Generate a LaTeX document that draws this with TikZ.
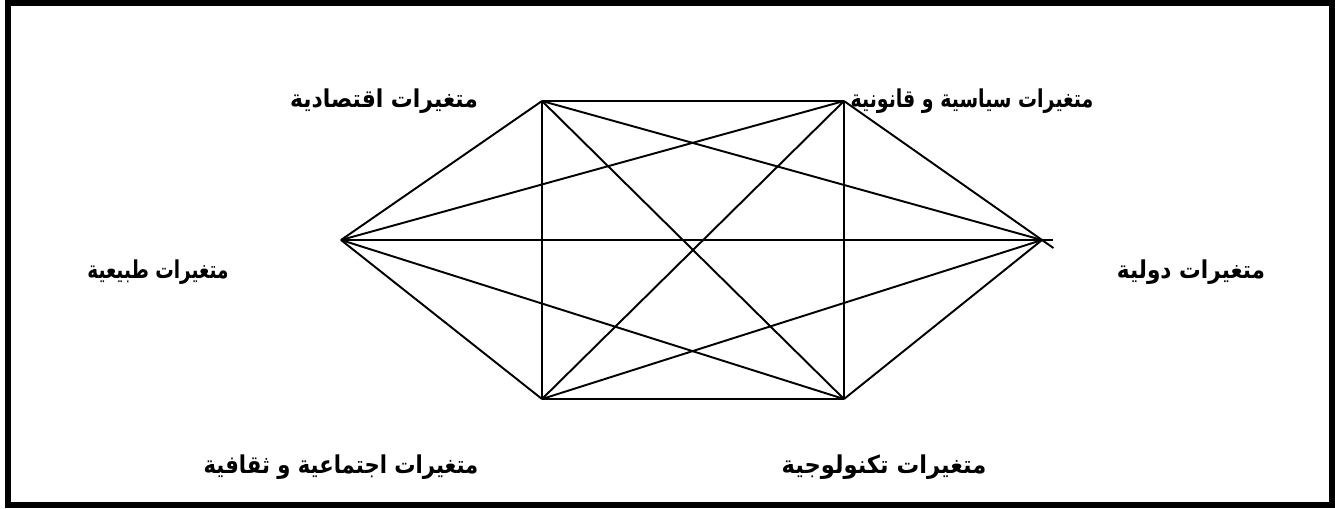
\documentclass[tikz,border=0pt]{standalone}
\usepackage{fontspec}
\usepackage{graphicx}
\usepackage{tikz}
\usetikzlibrary{positioning,calc}
\TeXXeTstate=1
\newfontfamily\arabicfont[Script=Arabic]{DejaVu Sans}
\newcommand{\varname}[2][0.89]{\scalebox{#1}[1]{\beginR #2\endR}}
\tikzset{
 frame/.style={draw=black, line width=0.12cm},
 link/.style={draw=black, line width=1.1pt},
 varlabel/.style={font=\arabicfont\bfseries\fontsize{14}{16}\selectfont, inner sep=0pt, anchor=center}
}
\begin{document}
\begin{tikzpicture}[x=0.02cm,y=-0.02cm]
\useasboundingbox (0,0) rectangle (1335,508);
\draw[frame] (8,3) rectangle (1332,505);
% hexagon corners
\coordinate (eco) at (542,101);
\coordinate (pol) at (844,101);
\coordinate (nat) at (341,240);
\coordinate (intl) at (1042,240);
\coordinate (soc) at (542,399);
\coordinate (tech) at (844,399);
% labels
\node[varlabel] (ecoL) at (384,101) {\varname{متغيرات اقتصادية}};
\node[varlabel] (polL) at (972,101) {\varname[0.77]{متغيرات سياسية و قانونية}};
\node[varlabel] (natL) at (158,272) {\varname[0.75]{متغيرات طبيعية}};
\node[varlabel] (intlL) at (1191,272) {\varname[0.88]{متغيرات دولية}};
\node[varlabel] (socL) at (341,467) {\varname[0.86]{متغيرات اجتماعية و ثقافية}};
\node[varlabel] (techL) at (884,467) {\varname[0.92]{متغيرات تكنولوجية}};
% every pair of variables is linked
\foreach \a/\b in {eco/pol,eco/nat,eco/soc,eco/tech,eco/intl,
                   pol/nat,pol/soc,pol/tech,
                   nat/soc,nat/tech,soc/tech,soc/intl,tech/intl}
  \draw[link] (\a) -- (\b);
\draw[link,shorten >=-0.22cm] (nat) -- (intl);
\draw[link,shorten >=-0.28cm] (pol) -- (intl);
\end{tikzpicture}
\end{document}
